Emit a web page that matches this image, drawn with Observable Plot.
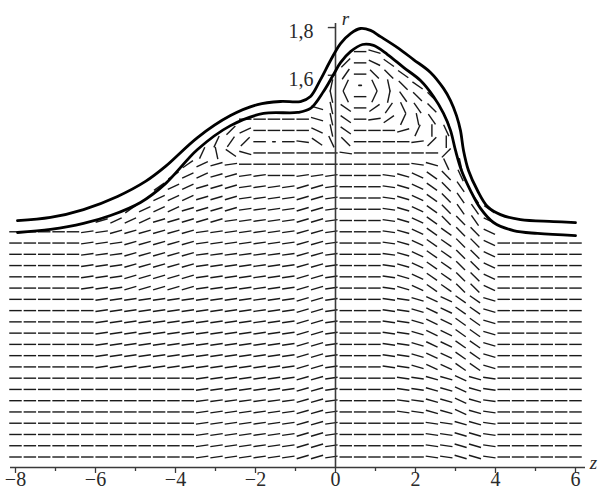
<!DOCTYPE html>
<html><head><meta charset="utf-8">
<script src="https://cdn.jsdelivr.net/npm/d3@7"></script>
<script src="https://cdn.jsdelivr.net/npm/@observablehq/plot@0.6"></script>
<style>body{margin:0;background:#fff}</style>
</head><body><div id="chart"></div>
<script>
// ---- thick free-surface curves (z, r) ----
const outerZ = [-7.95,-7.125,-6.3,-5.45,-4.75,-4.25,-3.45,-2.625,-1.95,-1.375,-0.875,-0.625,-0.375,-0.125,0.125,0.375,0.625,0.875,1.125,1.55,1.95,2.375,2.7,2.875,3.025,3.125,3.2,3.325,3.55,3.8,4.125,4.625,5.45,6.0];
const outerR = [0.991,1.004,1.037,1.092,1.155,1.218,1.339,1.431,1.477,1.490,1.490,1.511,1.582,1.662,1.733,1.775,1.796,1.788,1.762,1.716,1.666,1.612,1.545,1.494,1.431,1.368,1.285,1.201,1.117,1.050,1.016,0.995,0.987,0.982];
const innerZ = [-7.95,-7.125,-6.3,-5.625,-4.875,-4.25,-3.45,-2.625,-1.8,-0.95,-0.625,-0.3,-0.05,0.125,0.375,0.675,0.95,1.3,1.7,2.125,2.45,2.7,2.875,3.0,3.15,3.375,3.625,3.95,4.45,5.05,6.0];
const innerR = [0.941,0.954,0.979,1.012,1.067,1.146,1.289,1.389,1.440,1.444,1.461,1.532,1.603,1.653,1.699,1.729,1.725,1.687,1.633,1.578,1.511,1.440,1.369,1.285,1.201,1.117,1.042,0.983,0.949,0.937,0.928];

// ---- direction field: 40 x 40 lattice, dash directions read per cell ----
const fieldZmin = -8, fieldZmax = 6, fieldCols = 40;
const fieldRmin = 0, fieldRstep = 0.0472;
// angle codes (degrees, rising to the right = positive)
const angleCodes = {'-':0,a:8,b:16,c:25,d:35,e:45,f:55,g:65,h:78,'|':90,A:-8,B:-16,C:-25,D:-35,E:-45,F:-55,G:-65,H:-78,'.':0};
// rows from top (row 39) to bottom (row 0): [first column, codes]
const fieldRows = [
  [0,""],[0,""],[0,""],
  [24,"-B"],
  [23,"e-CD"],
  [23,"f-EED"],
  [22,"hg.GHED"],
  [22,"HG-ghFEE"],
  [21,"BHD-dfGFE"],
  [16,"-----BHD-adgHFG"],
  [15,"ec----CHD---bg|G"],
  [14,"gfe-.-ADGE----ae|"],
  [13,"gHDB------A------e"],
  [12,"dcba------------ABGH"],
  [11,"dccbbaa--aaa---ABCDEG"],
  [10,"dccbbbaaaabba---ABCDEF"],
  [10,"cccbbbaaaabba---ABCDEFF"],
  [8,"dcccbbbbaaaabba---ABCDEFFD"],
  [6,"bcccbbbbbaaaaabba---ABCDEEFC"],
  [0,"-----aabbbbbbaaaaaaabba---ABCDDEEC"],
  [0,"-----aaabbbbbaaaaaaabba---ABCDDEEC------"],
  [0,"-----aaabbbbbaaaaaaabba---ABCDDEEC------"],
  [0,"-----aaabbbbbaaaaaaabba---ABCDDEEC------"],
  [0,"-----aaabbbbbaaaaaaabba---ABCDDEEC------"],
  [0,"-----aaabbbbbaaaaaaabba---ABCDDEEC------"],
  [0,"------aaaaaaaaaaaaaabba---AABCCDDB------"],
  [0,"------aaaaaaaaaaaaaabba---AABCCDDB------"],
  [0,"------aaaaaaaaaaaaaabba---AABCCDDB------"],
  [0,"------aaaaaaaaaaaaaabba---AABCCDDB------"],
  [0,"------aaaaaaaaaaaaaabba---AABCCDDB------"],
  [0,"------aaaaaaaaaaaaaabba---AABCCDDB------"],
  [0,"------aaaaaaaaaaaaaabba---AABCCDDB------"],
  [0,"-------------aaaaaaabba----AABBCBA------"],
  [0,"-------------aaaaaaabba----AABBCBA------"],
  [0,"-------------aaaaaaabba----AABBCBA------"],
  [0,"-------------aaaaaaabba----AABBCBA------"],
  [0,"-------------aaaaaaabba------AABBA------"],
  [0,"-------------aaaaaaabba------AABBA------"],
  [0,"-------------aaaaaaabba------AABBA------"],
  [0,"-------------aaaaaaabba------AABBA------"]
];

// ---- axes ----
const axisR = -0.044, topR = 1.817;
const xMajorTicks = [-8,-6,-4,-2,0,2,4,6];
const xMinorTicks = [-7,-5,-3,-1,1,3,5];
const yTicks = [1.6, 1.8];
const yTickLabels = ["1,6", "1,8"];

// build tables
const outer = outerZ.map((z,i)=>({z, r: outerR[i]}));
const inner = innerZ.map((z,i)=>({z, r: innerR[i]}));
const colZ = j => fieldZmin + j*(fieldZmax-fieldZmin)/(fieldCols-1);
const dashes = [], dots = [];
fieldRows.forEach((row, k) => {
  const i = fieldRows.length - 1 - k;
  const [start, codes] = row;
  for (let t = 0; t < codes.length; t++) {
    const ch = codes[t];
    if (ch === ' ') continue;
    const d = {z: colZ(start+t), r: fieldRmin + i*fieldRstep, a: angleCodes[ch]};
    (ch === '.' ? dots : dashes).push(d);
  }
});

const lineShape = {draw(ctx, l) { ctx.moveTo(0, 0); ctx.lineTo(0, -l); }};
const fmtX = d => d < 0 ? "\u2212" + Math.abs(d) : String(d);
const font = "'Liberation Serif', 'DejaVu Serif', serif";
const axisColor = "#3a3a3a";

function build(useShape) {
  const fieldMarks = useShape ? [
    Plot.vector(dashes, {x:"z", y:"r", rotate: d => 90 - d.a, length: 12.5, anchor:"middle", shape: lineShape, stroke:"#1a1a1a", strokeWidth:1.4, strokeLinecap:"butt"}),
    Plot.vector(dots, {x:"z", y:"r", rotate: 90, length: 2.5, anchor:"middle", shape: lineShape, stroke:"#1a1a1a", strokeWidth:1.6})
  ] : [
    Plot.link(dashes, {x1: d=>d.z-6.25*Math.cos(d.a*Math.PI/180)/40, x2: d=>d.z+6.25*Math.cos(d.a*Math.PI/180)/40,
                       y1: d=>d.r-6.25*Math.sin(d.a*Math.PI/180)/238.6, y2: d=>d.r+6.25*Math.sin(d.a*Math.PI/180)/238.6,
                       stroke:"#1a1a1a", strokeWidth:1.4}),
    Plot.dot(dots, {x:"z", y:"r", r:1, fill:"#1a1a1a"})
  ];
  return Plot.plot({
    width: 599, height: 490,
    marginLeft: 10, marginRight: 14, marginTop: 23, marginBottom: 23,
    style: {fontFamily: font, background: "#fff", color: "#222"},
    x: {domain: [-8.125, 6.25], axis: null, label: null},
    y: {domain: [axisR, topR], axis: null, label: null},
    marks: [
      ...fieldMarks,
      Plot.ruleY([axisR], {stroke: axisColor, strokeWidth: 1.6}),
      Plot.ruleX([0], {stroke: axisColor, strokeWidth: 1.6}),
      Plot.axisX({ticks: xMajorTicks, tickSize: 6, tickPadding: -2, tickFormat: fmtX, fontSize: 20, label: null, stroke: axisColor, strokeWidth: 1.3, fill: "#2a2a2a"}),
      Plot.axisX({ticks: xMinorTicks, tickSize: 4, tickFormat: () => "", label: null, stroke: axisColor, strokeWidth: 1.3}),
      Plot.ruleY(yTicks, {x1: 0, x2: -0.18, stroke: axisColor, strokeWidth: 1.4}),
      Plot.text(yTicks, {x: 0, y: d => d, text: (d, i) => yTickLabels[i], dx: -22, dy: 4, textAnchor: "end", fontSize: 20, fill: "#2a2a2a"}),
      Plot.line(outer, {x: "z", y: "r", curve: "catmull-rom", stroke: "#000", strokeWidth: 2.8}),
      Plot.line(inner, {x: "z", y: "r", curve: "catmull-rom", stroke: "#000", strokeWidth: 2.8}),
      Plot.text(["r"], {x: 0, y: topR, dx: 10, dy: -5, text: d => d, fontSize: 19, fontStyle: "italic", fill: "#2a2a2a"}),
      Plot.text(["z"], {x: 6.25, y: axisR, dx: 8, dy: -5, text: d => d, fontSize: 19, fontStyle: "italic", fill: "#2a2a2a"})
    ]
  });
}
let chart;
try { chart = build(true); } catch (e) { chart = build(false); }
document.getElementById("chart").appendChild(chart);
</script>
</body></html>
